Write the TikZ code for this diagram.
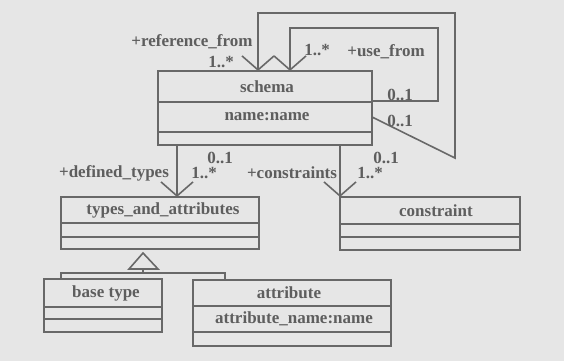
\documentclass[tikz,border=0pt]{standalone}
\usepackage{fontspec}
\setmainfont{Liberation Serif}
\usetikzlibrary{arrows.meta,calc}
\definecolor{paper}{HTML}{E6E6E6}
\definecolor{ink}{HTML}{686868}
\definecolor{txt}{HTML}{5E5E5E}
\tikzset{
  cls/.style={draw=ink, line width=1.6pt, inner sep=0pt, outer sep=0pt, anchor=north west},
  divider/.style={draw=ink, line width=1.6pt},
  assoc/.style={draw=ink, line width=1.6pt, -{Straight Barb[length=14pt,width=32pt]}},
  plainline/.style={draw=ink, line width=1.6pt},
  lbl/.style={text=txt, inner sep=0pt, font=\fontsize{17}{20}\selectfont\bfseries},
}
\begin{document}
\begin{tikzpicture}[x=1pt,y=-1pt]
\useasboundingbox[fill=paper] (0,0) rectangle (564,361);

% class boxes
\node[cls, minimum width=214pt, minimum height=74pt] (schema) at (158,71) {};
\node[cls, minimum width=198pt, minimum height=52pt] (types) at (61,197) {};
\node[cls, minimum width=180pt, minimum height=53pt] (constraint) at (340,197) {};
\node[cls, minimum width=118pt, minimum height=53pt] (base) at (44,279) {};
\node[cls, minimum width=198pt, minimum height=66pt] (attribute) at (193,280) {};

% compartment dividers
\draw[divider] (schema.west |- 0,102) -- (schema.east |- 0,102);
\draw[divider] (schema.west |- 0,132) -- (schema.east |- 0,132);
\draw[divider] (types.west |- 0,223) -- (types.east |- 0,223);
\draw[divider] (types.west |- 0,237) -- (types.east |- 0,237);
\draw[divider] (constraint.west |- 0,224) -- (constraint.east |- 0,224);
\draw[divider] (constraint.west |- 0,237) -- (constraint.east |- 0,237);
\draw[divider] (base.west |- 0,307) -- (base.east |- 0,307);
\draw[divider] (base.west |- 0,319) -- (base.east |- 0,319);
\draw[divider] (attribute.west |- 0,306) -- (attribute.east |- 0,306);
\draw[divider] (attribute.west |- 0,332) -- (attribute.east |- 0,332);

% class names and attributes
\node[lbl] (schemaname) at (267,87) {schema};
\node[lbl] (schemaattr) at (267,117) {name:name};
\node[lbl] (typesname) at (163,210) {types\_and\_attributes};
\node[lbl] (constraintname) at (436,211) {constraint};
\node[lbl] (basename) at (106,293) {base type};
\node[lbl] (attributename) at (289,293) {attribute};
\node[lbl] (attributeattr) at (294,319) {attribute\_name:name};

% self associations of schema
\coordinate (refstart) at (schema.east |- 0,117);
\coordinate (refend) at (258,71);
\draw[assoc] (refstart) -- (455,158) -- (455,13) -- (258,13) -- (refend);
\coordinate (usestart) at (schema.east |- 0,101);
\coordinate (useend) at (290,71);
\draw[assoc] (usestart) -- (438,101) -- (438,28) -- (290,28) -- (useend);

% associations to contained classes
\draw[assoc] (schema.south -| 177,0) -- (types.north -| 177,0);
\draw[assoc] (schema.south -| constraint.north west) -- (constraint.north west);

% generalisation
\coordinate (genapex) at (143,253);
\coordinate (genleft) at (129,269);
\coordinate (genright) at (158,269);
\coordinate (genbar) at (143,273);
\draw[plainline, line join=miter] (genapex) -- (genright) -- (genleft) -- cycle;
\draw[plainline] (143,269) -- (genbar);
\draw[plainline] (base.north -| 61,0) -- (61,273) -- (225,273) -- (attribute.north -| 225,0);

% role names and multiplicities
\node[lbl] (rrole) at (192,42) {+reference\_from};
\node[lbl] (rmulta) at (221,62) {1..*};
\node[lbl] (umulta) at (317,50) {1..*};
\node[lbl] (urole) at (386,52) {+use\_from};
\node[lbl] (umultb) at (400,95) {0..1};
\node[lbl] (rmultb) at (400,121) {0..1};
\node[lbl] (dmultb) at (220,158) {0..1};
\node[lbl] (drole) at (114,173) {+defined\_types};
\node[lbl] (dmulta) at (204,173) {1..*};
\node[lbl] (cmultb) at (386,158) {0..1};
\node[lbl] (crole) at (292,173) {+constraints};
\node[lbl] (cmulta) at (370,173) {1..*};
\end{tikzpicture}
\end{document}
